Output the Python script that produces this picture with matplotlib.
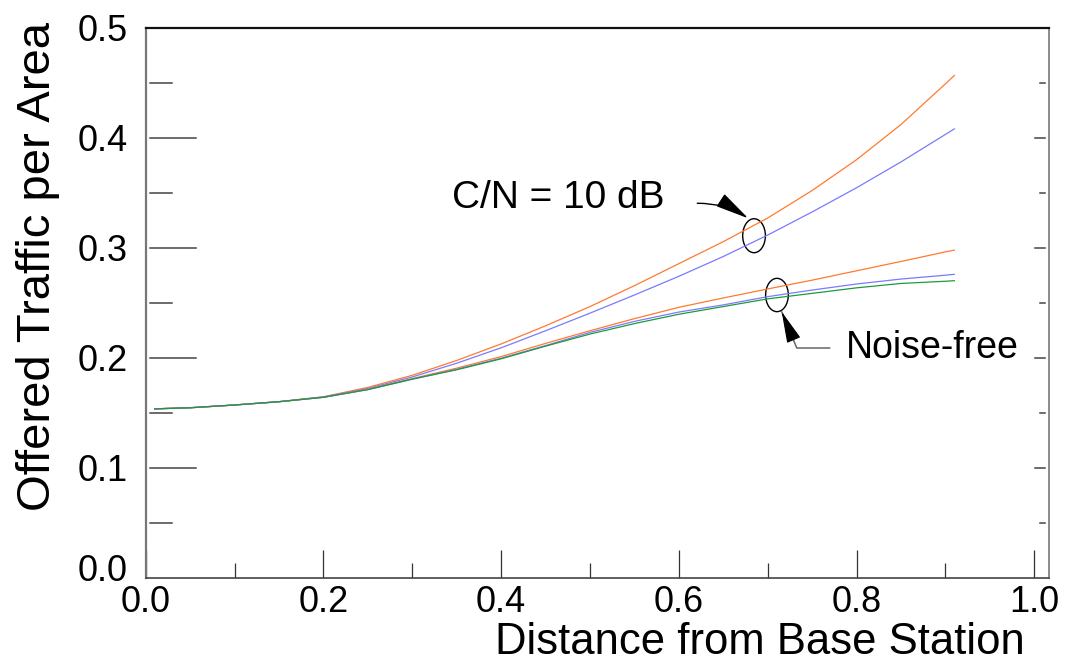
import matplotlib
matplotlib.use("Agg")
import matplotlib.pyplot as plt
import matplotlib.transforms as mtransforms
from matplotlib.patches import Ellipse
import numpy as np

plt.rcParams['font.family'] = ['Liberation Sans', 'DejaVu Sans']

# ---- data ----
distance = [0.01, 0.05, 0.10, 0.15, 0.20, 0.25, 0.30, 0.35, 0.40, 0.45,
            0.50, 0.55, 0.60, 0.65, 0.70, 0.75, 0.80, 0.85, 0.90, 0.91]
cn10_orange = [0.1535, 0.1545, 0.157, 0.160, 0.1645, 0.173, 0.184, 0.1975, 0.2125, 0.229,
               0.2465, 0.2655, 0.2855, 0.3055, 0.327, 0.352, 0.380, 0.412, 0.449, 0.4565]
cn10_blue = [0.1535, 0.1545, 0.157, 0.160, 0.1643, 0.172, 0.1825, 0.195, 0.209, 0.2245,
             0.2405, 0.257, 0.274, 0.292, 0.3115, 0.3325, 0.3545, 0.378, 0.403, 0.408]
nf_orange = [0.1535, 0.1545, 0.157, 0.160, 0.164, 0.1715, 0.181, 0.1905, 0.201, 0.213,
             0.2245, 0.2355, 0.2458, 0.2543, 0.2625, 0.2705, 0.279, 0.2875, 0.2962, 0.2978]
nf_blue = [0.1535, 0.1545, 0.157, 0.160, 0.164, 0.171, 0.1805, 0.1895, 0.1995, 0.211,
           0.223, 0.233, 0.2415, 0.248, 0.2555, 0.2615, 0.267, 0.2715, 0.275, 0.2758]
nf_green = [0.1535, 0.1545, 0.157, 0.160, 0.164, 0.171, 0.1805, 0.189, 0.199, 0.2105,
            0.2215, 0.231, 0.2395, 0.2465, 0.2535, 0.2585, 0.2635, 0.2675, 0.2695, 0.270]

x_major = [0.0, 0.2, 0.4, 0.6, 0.8, 1.0]
x_minor = [0.1, 0.3, 0.5, 0.7, 0.9]
y_major = [0.0, 0.1, 0.2, 0.3, 0.4, 0.5]
y_minor = [0.05, 0.15, 0.25, 0.35, 0.45]

ORANGE = '#ff7a2e'
BLUE = '#7a7aff'
GREEN = '#1e9a3a'

fig = plt.figure(figsize=(10.66, 6.66), dpi=100)
ax = fig.add_axes([0.1367, 0.1326, 0.8474, 0.8258])

lw = 0.9
ax.plot(distance, cn10_orange, color=ORANGE, lw=lw)
ax.plot(distance, cn10_blue, color=BLUE, lw=lw)
ax.plot(distance, nf_orange, color=ORANGE, lw=lw)
ax.plot(distance, nf_blue, color=BLUE, lw=lw)
ax.plot(distance, nf_green, color=GREEN, lw=lw)

ax.set_xlim(0, 1.0166)
ax.set_ylim(0, 0.5)

# spines
ax.spines['top'].set_color('#111111')
ax.spines['top'].set_linewidth(1.6)
ax.spines['left'].set_color('#777777')
ax.spines['left'].set_linewidth(1.6)
ax.spines['right'].set_color('#777777')
ax.spines['right'].set_linewidth(1.2)
ax.spines['bottom'].set_color('#444444')
ax.spines['bottom'].set_linewidth(1.2)

# x ticks
ax.set_xticks(x_major)
ax.set_xticks(x_minor, minor=True)
ax.set_xticklabels([f"{v:.1f}" for v in x_major])
ax.tick_params(axis='x', which='major', direction='in', length=20, width=0.9,
               color='#333333', labelsize=26, pad=5)
ax.tick_params(axis='x', which='minor', direction='in', length=10.8, width=0.9,
               color='#333333')

# y ticks (labels only; marks drawn detached from the spines)
ax.set_yticks(y_major)
ax.set_yticks(y_minor, minor=True)
ax.set_yticklabels([f"{v:.1f}" for v in y_major])
ax.tick_params(axis='y', which='both', length=0, labelsize=26, pad=12.7)

ytr = ax.get_yaxis_transform()
W = 903.3  # axes width in px
for v in y_major[1:-1]:
    ax.plot([4 / W, 50 / W], [v, v], transform=ytr, color='#444444', lw=1.1, clip_on=False)
    ax.plot([1 - 14 / W, 1 - 4 / W], [v, v], transform=ytr, color='#444444', lw=1.1, clip_on=False)
for v in y_minor:
    ax.plot([4 / W, 26 / W], [v, v], transform=ytr, color='#444444', lw=1.1, clip_on=False)
    ax.plot([1 - 9 / W, 1 - 4 / W], [v, v], transform=ytr, color='#444444', lw=1.1, clip_on=False)

# shift the "0.0" y label up a little as in the reference
lbl = ax.yaxis.get_major_ticks()[0].label1
lbl.set_transform(lbl.get_transform() + mtransforms.ScaledTranslation(0, 10 / 100, fig.dpi_scale_trans))

# axis labels
ax.set_xlabel('Distance from Base Station', fontsize=31.4, ha='right')
ax.xaxis.set_label_coords(0.9734, -0.0805)
ax.set_ylabel('Offered Traffic per Area', fontsize=34)
ax.yaxis.set_label_coords(-0.0948, 0.565)

# annotations
ax.add_patch(Ellipse((0.6846, 0.3109), 0.02555, 0.0309, fill=False, ec='black', lw=1.0))
ax.add_patch(Ellipse((0.7104, 0.2570), 0.02555, 0.0303, fill=False, ec='black', lw=1.0))

ax.text(0.3447, 0.345, 'C/N = 10 dB', fontsize=28, va='center', ha='left')
ax.text(0.788, 0.2088, 'Noise-free', fontsize=27, va='center', ha='left')

ax.annotate('', xy=(0.6781, 0.3267), xytext=(0.6207, 0.3404),
            arrowprops=dict(arrowstyle='-|>,head_length=1.05,head_width=0.23',
                            mutation_scale=20, color='black', lw=1.0,
                            connectionstyle='arc3,rad=-0.15',
                            shrinkA=0, shrinkB=0))
# Noise-free pointer: gray elbow line + black head
ax.annotate('', xy=(0.7157, 0.2418), xytext=(0.7699, 0.2088),
            arrowprops=dict(arrowstyle='-', color='#666666', lw=1.1,
                            connectionstyle='angle,angleA=0,angleB=112.6,rad=0',
                            shrinkA=0, shrinkB=0))
ax.annotate('', xy=(0.7157, 0.2418), xytext=(0.7282, 0.2180),
            arrowprops=dict(arrowstyle='-|>,head_length=1.0,head_width=0.23',
                            mutation_scale=20, color='black', lw=0.8,
                            shrinkA=0, shrinkB=0))

fig.savefig('out.png', dpi=100)
